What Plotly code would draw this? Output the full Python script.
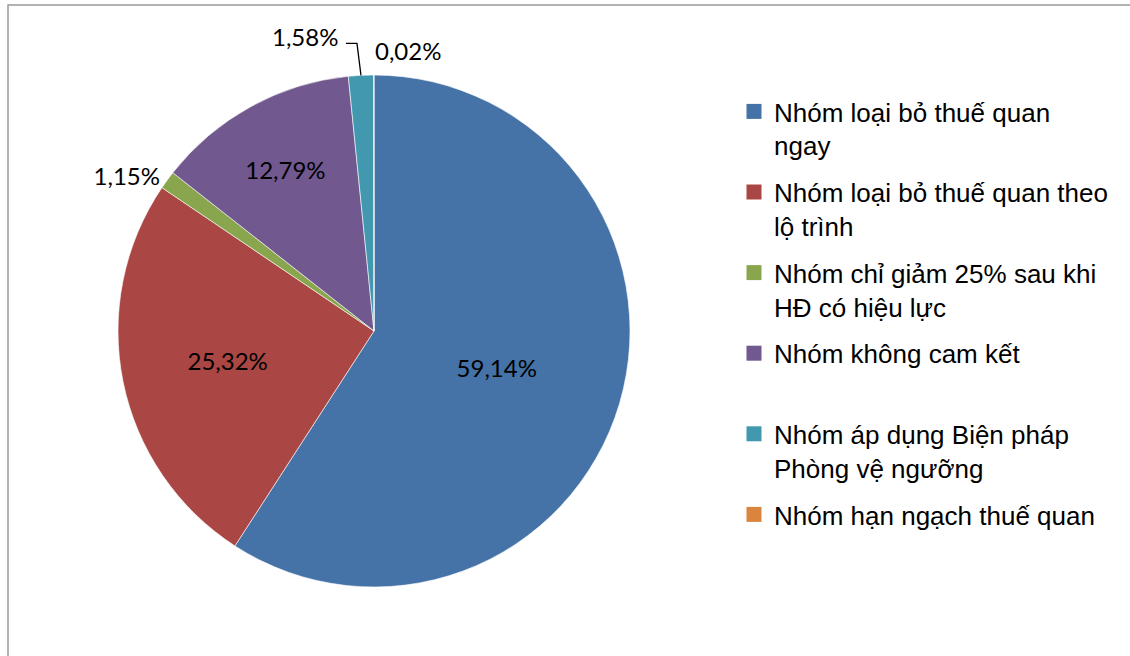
import math
import plotly.graph_objects as go

categories = [
    "Nhóm loại bỏ thuế quan<br>ngay",
    "Nhóm loại bỏ thuế quan theo<br>lộ trình",
    "Nhóm chỉ giảm 25% sau khi<br>HĐ có hiệu lực",
    "Nhóm không cam kết<br> ",
    "Nhóm áp dụng Biện pháp<br>Phòng vệ ngưỡng",
    "Nhóm hạn ngạch thuế quan<br> ",
]
values = [59.14, 25.32, 1.15, 12.79, 1.58, 0.02]
colors = ["#4572A7", "#AA4643", "#89A54E", "#71588F", "#4198AF", "#DB843D"]
text_positions = ["inside", "inside", "outside", "inside", "none", "none"]

W, H = 1130, 656
cx, cy, r = 374, 331, 256

fig = go.Figure()
fig.add_trace(go.Pie(
    labels=categories,
    values=values,
    sort=False,
    direction="clockwise",
    rotation=0,
    marker=dict(colors=colors, line=dict(color="#ffffff", width=0.6)),
    texttemplate="%{value:.2f}%",
    textposition=text_positions,
    insidetextorientation="horizontal",
    textfont=dict(family="Lato, Carlito, sans-serif", size=24, color="#000000"),
    showlegend=False,
    hoverinfo="label+percent",
    domain=dict(x=[(cx - r) / W, (cx + r) / W], y=[(H - cy - r) / H, (H - cy + r) / H]),
))

for i, name in enumerate(categories):
    fig.add_trace(go.Scatter(
        x=[None], y=[None], mode="markers", name=name,
        marker=dict(symbol="square", size=15, color=colors[i]),
        legendgroup=f"g{i}", showlegend=True,
    ))

# labels of the two tiny slices at the top, placed from the slice angles
total = sum(values)
cum = 0.0
mids = []
for v in values:
    mids.append((cum + v / 2) / total * 2 * math.pi)
    cum += v

def fmt(v):
    return f"{v:.2f}".replace(".", ",") + "%"

label_offsets = {4: (-56, -39), 5: (34, -25)}
for idx, (ax, ay) in label_offsets.items():
    th = mids[idx]
    px = cx + r * math.sin(th)
    py = cy - r * math.cos(th)
    fig.add_annotation(
        x=px / W, y=1 - py / H, xref="paper", yref="paper",
        text=fmt(values[idx]), showarrow=True, arrowhead=0,
        arrowcolor="rgba(0,0,0,0)", ax=ax, ay=ay, standoff=0,
        font=dict(family="Lato, Carlito, sans-serif", size=24, color="#000000"),
    )
    if idx == 4:
        # elbow leader line from the slice edge to the label
        pts = [(px, py), (px - 4, py - 32), (px - 15, py - 32)]
        path = "M " + " L ".join(f"{x / W:.5f},{1 - y / H:.5f}" for x, y in pts)
        fig.add_shape(type="path", xref="paper", yref="paper", path=path,
                      line=dict(color="#000000", width=1.3))

fig.add_shape(type="rect", xref="paper", yref="paper",
              x0=8 / W, y0=-0.02, x1=1.02, y1=1 - 5 / H,
              line=dict(color="#999999", width=1.5))

fig.update_layout(
    width=W, height=H,
    margin=dict(l=0, r=0, t=0, b=0),
    paper_bgcolor="white", plot_bgcolor="white",
    separators=",.",
    xaxis=dict(visible=False), yaxis=dict(visible=False),
    legend=dict(
        x=734 / W, y=1 - 88 / H, xanchor="left", yanchor="top",
        font=dict(family="Liberation Sans, Arial, sans-serif", size=26, color="#000000"),
        tracegroupgap=10, valign="top", bgcolor="rgba(0,0,0,0)",
    ),
)

fig.write_html("out.html", config={"displayModeBar": False},
               post_script="document.body.style.margin='0px';")
